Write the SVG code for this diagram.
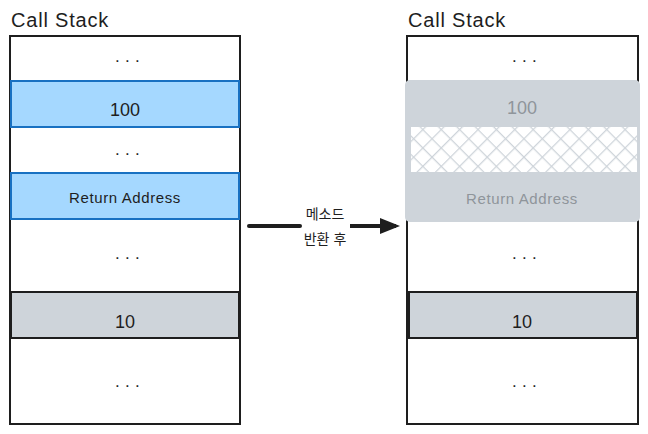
<svg xmlns="http://www.w3.org/2000/svg" width="648" height="434" viewBox="0 0 648 434">
<style>
.t{font-family:"Liberation Sans","Noto Sans CJK KR",sans-serif;fill:#1e1e1e;text-anchor:middle}
.title{font-size:20px;letter-spacing:0.8px;text-anchor:start}
.frame{fill:#fff;stroke:#1e1e1e;stroke-width:2}
.blue{fill:#a5d8ff;stroke:#1971c2;stroke-width:2}
.gray{fill:#ced4da;stroke:#1e1e1e;stroke-width:2}
.dots{font-size:17px;letter-spacing:5.3px}
.val{font-size:18px}
.ra{font-size:15px;letter-spacing:0.6px}
.faded{fill:#8f959b}
</style>
<defs>
<pattern id="hatch" width="13" height="13" patternUnits="userSpaceOnUse" patternTransform="rotate(45)">
<rect width="13" height="13" fill="#fff"/>
<line x1="0" y1="0" x2="0" y2="13" stroke="#ced4da" stroke-width="2.5"/>
<line x1="0" y1="0" x2="13" y2="0" stroke="#ced4da" stroke-width="2.5"/>
</pattern>
<marker id="ah" markerWidth="5" markerHeight="4" refX="4" refY="2" orient="auto" markerUnits="strokeWidth">
<path d="M0,0 L5,2 L0,4 Z" fill="#1e1e1e"/>
</marker>
</defs>
<g id="left-stack">
<text class="t title" x="11" y="27">Call Stack</text>
<rect class="frame" x="10" y="36" width="230" height="388"/>
<text class="t dots" x="130" y="62">...</text>
<rect class="blue" x="11" y="81" width="228" height="46"/>
<text class="t val" x="125" y="116">100</text>
<text class="t dots" x="130" y="155">...</text>
<rect class="blue" x="11" y="173" width="228" height="46"/>
<text class="t ra" x="125" y="203">Return Address</text>
<text class="t dots" x="130" y="259">...</text>
<rect class="gray" x="11" y="292" width="228" height="46"/>
<text class="t val" x="125" y="328">10</text>
<text class="t dots" x="130" y="387">...</text>
</g>
<g id="right-stack">
<text class="t title" x="408" y="27">Call Stack</text>
<rect class="frame" x="407" y="36" width="231" height="388"/>
<text class="t dots" x="527" y="62">...</text>
<rect x="405" y="80" width="235" height="142" rx="5" fill="#ced4da"/>
<rect x="411" y="127" width="226" height="45" fill="url(#hatch)"/>
<text class="t val faded" x="522" y="114">100</text>
<text class="t ra faded" x="522" y="204">Return Address</text>
<text class="t dots" x="527" y="259">...</text>
<rect class="gray" x="409" y="292" width="228" height="46"/>
<text class="t val" x="522" y="328">10</text>
<text class="t dots" x="527" y="387">...</text>
</g>
<g id="connectors">
<line x1="249" y1="226" x2="300" y2="226" stroke="#1e1e1e" stroke-width="4" stroke-linecap="round"/>
<line x1="350" y1="226" x2="396" y2="226" stroke="#1e1e1e" stroke-width="4" marker-end="url(#ah)"/>
<text class="t" font-size="14" x="325" y="219">메소드</text>
<text class="t" font-size="14" x="325" y="244">반환 후</text>
</g>
</svg>
